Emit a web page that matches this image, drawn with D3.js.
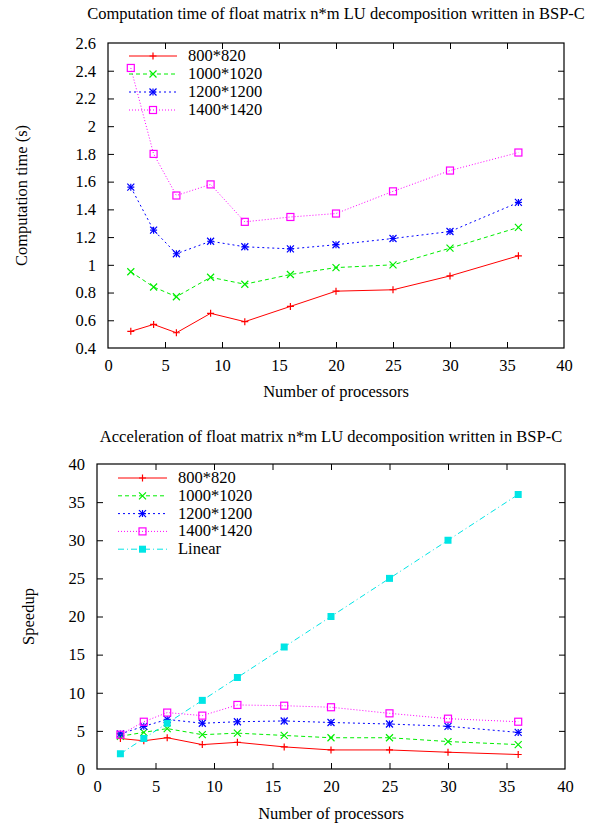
<!DOCTYPE html>
<html>
<head>
<meta charset="utf-8">
<script src="https://cdn.jsdelivr.net/npm/d3@7"></script>
<style>
  html, body { margin: 0; padding: 0; background: #fff; }
  svg text { font-family: "Liberation Serif", "Times New Roman", serif; fill: #000; }
</style>
</head>
<body>
<svg id="chart" width="594" height="825"></svg>
<script>
// Processor counts used in the benchmark runs
const processors = [2, 4, 6, 9, 12, 16, 20, 25, 30, 36];

// Matrix sizes (legend labels)
const sizes = ["800*820", "1000*1020", "1200*1200", "1400*1420"];

// Computation time in seconds, one array per matrix size
const time800  = [0.52, 0.57, 0.51, 0.65, 0.59, 0.70, 0.81, 0.82, 0.92, 1.065];
const time1000 = [0.95, 0.84, 0.77, 0.91, 0.86, 0.93, 0.98, 1.00, 1.12, 1.27];
const time1200 = [1.56, 1.25, 1.08, 1.17, 1.13, 1.115, 1.145, 1.19, 1.24, 1.45];
const time1400 = [2.42, 1.80, 1.50, 1.58, 1.31, 1.345, 1.37, 1.53, 1.68, 1.81];

// Speedup, one array per matrix size, plus the linear reference
const speed800  = [4.0, 3.7, 4.1, 3.2, 3.5, 2.9, 2.5, 2.5, 2.2, 1.9];
const speed1000 = [4.3, 4.8, 5.3, 4.5, 4.7, 4.4, 4.1, 4.1, 3.6, 3.2];
const speed1200 = [4.6, 5.6, 6.5, 6.0, 6.2, 6.3, 6.1, 5.9, 5.6, 4.8];
const speed1400 = [4.5, 6.2, 7.4, 7.0, 8.4, 8.3, 8.1, 7.3, 6.6, 6.2];
const speedLinear = [2, 4, 6, 9, 12, 16, 20, 25, 30, 36];

// Tick values
const xTicks = [0, 5, 10, 15, 20, 25, 30, 35, 40];
const timeTicks = [0.4, 0.6, 0.8, 1.0, 1.2, 1.4, 1.6, 1.8, 2.0, 2.2, 2.4, 2.6];
const speedTicks = [0, 5, 10, 15, 20, 25, 30, 35, 40];

// Series styles (gnuplot-like line types)
const styles = [
  { color: "#ff0000", dash: null,    marker: "plus" },
  { color: "#00ee00", dash: "4,3",   marker: "cross" },
  { color: "#0000ff", dash: "2,3",   marker: "star" },
  { color: "#ff00ff", dash: "1,2",   marker: "box" },
  { color: "#00e5e5", dash: "6,3,1,3", marker: "fbox" }
];

const svg = d3.select("#chart");
const FONT = 16.5;

function drawMarker(g, type, x, y, color) {
  const s = 3.5;
  if (type === "plus" || type === "star") {
    g.append("path").attr("d", `M${x - s},${y}H${x + s}M${x},${y - s}V${y + s}`)
      .attr("stroke", color).attr("stroke-width", 1.2).attr("fill", "none");
  }
  if (type === "cross" || type === "star") {
    g.append("path").attr("d", `M${x - s},${y - s}L${x + s},${y + s}M${x - s},${y + s}L${x + s},${y - s}`)
      .attr("stroke", color).attr("stroke-width", 1.2).attr("fill", "none");
  }
  if (type === "box") {
    g.append("rect").attr("x", x - s).attr("y", y - s).attr("width", 2 * s).attr("height", 2 * s)
      .attr("stroke", color).attr("stroke-width", 1.2).attr("fill", "none");
  }
  if (type === "fbox") {
    g.append("rect").attr("x", x - s).attr("y", y - s).attr("width", 2 * s).attr("height", 2 * s)
      .attr("fill", color);
  }
}

function drawPanel(cfg) {
  const { left, right, top, bottom, yDomain, yTicks, yFormat, series, labels,
          title, titleY, yLabel, yLabelX, xLabelY, legend } = cfg;
  const x = d3.scaleLinear().domain([0, 40]).range([left, right]);
  const y = d3.scaleLinear().domain(yDomain).range([bottom, top]);
  const g = svg.append("g");
  const tick = 6;

  // Axes with inward ticks, mirrored on top and right
  const axB = g.append("g").attr("transform", `translate(0,${bottom})`)
    .call(d3.axisBottom(x).tickValues(xTicks).tickSizeInner(-tick).tickSizeOuter(0).tickPadding(11).tickFormat(d3.format("d")));
  const axT = g.append("g").attr("transform", `translate(0,${top})`)
    .call(d3.axisTop(x).tickValues(xTicks).tickSizeInner(-tick).tickSizeOuter(0).tickFormat(""));
  const axL = g.append("g").attr("transform", `translate(${left},0)`)
    .call(d3.axisLeft(y).tickValues(yTicks).tickSizeInner(-tick).tickSizeOuter(0).tickPadding(12).tickFormat(yFormat));
  const axR = g.append("g").attr("transform", `translate(${right},0)`)
    .call(d3.axisRight(y).tickValues(yTicks).tickSizeInner(-tick).tickSizeOuter(0).tickFormat(""));
  [axB, axT, axL, axR].forEach(a => {
    a.select(".domain").remove();
    a.selectAll("line").attr("stroke", "#000");
    a.selectAll("text").attr("font-size", FONT).attr("font-family", "Liberation Serif");
  });
  // Hide ticks at the frame corners
  axB.selectAll(".tick").filter(d => d === 0 || d === 40).select("line").remove();
  axT.selectAll(".tick").filter(d => d === 0 || d === 40).select("line").remove();
  axL.selectAll(".tick").filter(d => d === yDomain[0] || d === yDomain[1]).select("line").remove();
  axR.selectAll(".tick").filter(d => d === yDomain[0] || d === yDomain[1]).select("line").remove();

  g.append("rect").attr("x", left).attr("y", top).attr("width", right - left).attr("height", bottom - top)
    .attr("fill", "none").attr("stroke", "#000").attr("stroke-width", 1.2);

  // Titles and axis labels
  g.append("text").attr("x", (left + right) / 2).attr("y", titleY).attr("text-anchor", "middle")
    .attr("font-size", FONT).text(title);
  g.append("text").attr("x", (left + right) / 2).attr("y", xLabelY).attr("text-anchor", "middle")
    .attr("font-size", FONT).text("Number of processors");
  g.append("text").attr("transform", `translate(${yLabelX},${(top + bottom) / 2}) rotate(-90)`)
    .attr("text-anchor", "middle").attr("font-size", FONT).text(yLabel);

  const line = d3.line().x((d, i) => x(processors[i])).y(d => y(d));

  series.forEach((vals, k) => {
    const st = styles[k];
    g.append("path").datum(vals).attr("d", line).attr("fill", "none")
      .attr("stroke", st.color).attr("stroke-width", 1)
      .attr("stroke-dasharray", st.dash);
    vals.forEach((v, i) => drawMarker(g, st.marker, x(processors[i]), y(v), st.color));
  });

  // Legend
  labels.forEach((lab, k) => {
    const st = styles[k];
    const ly = legend.y + k * legend.dy;
    g.append("line").attr("x1", legend.x1).attr("x2", legend.x2).attr("y1", ly).attr("y2", ly)
      .attr("stroke", st.color).attr("stroke-width", 1).attr("stroke-dasharray", st.dash);
    drawMarker(g, st.marker, (legend.x1 + legend.x2) / 2, ly, st.color);
    g.append("text").attr("x", legend.tx).attr("y", ly + 5).attr("font-size", FONT).text(lab);
  });
}

drawPanel({
  left: 108, right: 564, top: 43, bottom: 348,
  yDomain: [0.4, 2.6], yTicks: timeTicks, yFormat: d => d3.format("")(+d.toFixed(1)),
  series: [time800, time1000, time1200, time1400],
  labels: sizes,
  title: "Computation time of float matrix n*m LU decomposition written in BSP-C",
  titleY: 19, yLabel: "Computation time (s)", yLabelX: 27, xLabelY: 397,
  legend: { x1: 129, x2: 177, tx: 188, y: 56, dy: 18 }
});

drawPanel({
  left: 97, right: 565, top: 464, bottom: 769,
  yDomain: [0, 40], yTicks: speedTicks, yFormat: d3.format("d"),
  series: [speed800, speed1000, speed1200, speed1400, speedLinear],
  labels: sizes.concat(["Linear"]),
  title: "Acceleration of float matrix n*m LU decomposition written in BSP-C",
  titleY: 442, yLabel: "Speedup", yLabelX: 34, xLabelY: 819,
  legend: { x1: 118, x2: 167, tx: 178, y: 478, dy: 17.8 }
});
</script>
</body>
</html>
